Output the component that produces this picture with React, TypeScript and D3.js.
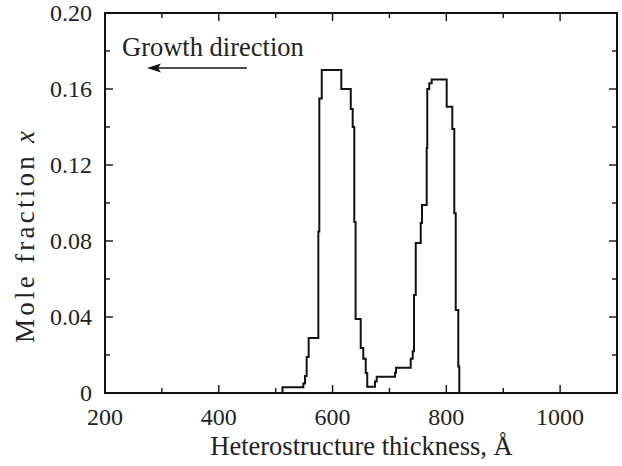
import React from "react";
import * as d3 from "d3";

// Step profile: each entry starts a new constant-composition layer
const thickness = [
  512, 548.6, 551.6, 554.5, 558, 575, 576.7, 581, 615.4, 632, 635.4, 638.2,
  640.5, 649.5, 654, 658.3, 661, 674.6, 677.6, 709.8, 711.5, 737.4, 740.9,
  743.2, 746.2, 755, 757.2, 765.5, 766.5, 770, 774.3, 800.6, 810.5, 814,
  816.5, 821, 822.8,
];
const moleFraction = [
  0.003, 0.005, 0.009, 0.019, 0.029, 0.085, 0.155, 0.17, 0.16, 0.1495, 0.14,
  0.09, 0.039, 0.0237, 0.018, 0.0105, 0.0033, 0.006, 0.0086, 0.0107, 0.0133,
  0.018, 0.022, 0.0516, 0.079, 0.0895, 0.099, 0.129, 0.16, 0.163, 0.165,
  0.1507, 0.139, 0.0946, 0.0437, 0.0139, 0,
];

const xMajorTicks = [200, 400, 600, 800, 1000];
const xMinorTicks = [300, 500, 700, 900, 1100];
const yMajorTicks = [0, 0.04, 0.08, 0.12, 0.16, 0.2];
const yMinorTicks = [0.02, 0.06, 0.1, 0.14, 0.18];

const W = 622;
const H = 466;
const M = { left: 105, right: 617, top: 13, bottom: 393 };
const FONT = '"Liberation Serif", "Times New Roman", "DejaVu Serif", serif';
const txt = { fontFamily: FONT };

export default function App() {
  const x = d3.scaleLinear().domain([200, 1100]).range([M.left, M.right]);
  const y = d3.scaleLinear().domain([0, 0.2]).range([M.bottom, M.top]);

  const pts: [number, number][] = [[thickness[0], 0]];
  thickness.forEach((t, i) => pts.push([t, moleFraction[i]]));
  const line = d3
    .line<[number, number]>()
    .x((d) => x(d[0]))
    .y((d) => y(d[1]))
    .curve(d3.curveStepAfter);

  const majLen = 8;
  const minLen = 5;

  return (
    <svg
      width={W}
      height={H}
      style={{ position: "absolute", left: 0, top: 0, background: "#fff" }}
    >
      {/* x ticks, bottom and top */}
      {xMajorTicks.concat(xMinorTicks).map((t) => {
        const len = xMajorTicks.includes(t) ? majLen : minLen;
        return (
          <g key={"xt" + t} stroke="#111" strokeWidth={1.4}>
            <line x1={x(t)} x2={x(t)} y1={M.bottom} y2={M.bottom - len} />
            <line x1={x(t)} x2={x(t)} y1={M.top} y2={M.top + len} />
          </g>
        );
      })}
      {/* y ticks, left and right */}
      {yMajorTicks.concat(yMinorTicks).map((t) => {
        const len = yMajorTicks.includes(t) ? majLen : minLen;
        return (
          <g key={"yt" + t} stroke="#111" strokeWidth={1.4}>
            <line x1={M.left} x2={M.left + len} y1={y(t)} y2={y(t)} />
            <line x1={M.right} x2={M.right - len} y1={y(t)} y2={y(t)} />
          </g>
        );
      })}

      {/* profile */}
      <path d={line(pts) || ""} fill="none" stroke="#111" strokeWidth={2} />

      {/* frame */}
      <rect
        x={M.left}
        y={M.top}
        width={M.right - M.left}
        height={M.bottom - M.top}
        fill="none"
        stroke="#111"
        strokeWidth={2}
      />

      {/* tick labels */}
      {xMajorTicks.map((t) => (
        <text
          key={"xl" + t}
          x={x(t)}
          y={425}
          fontSize={24}
          textAnchor="middle"
          fill="#222"
          style={txt}
        >
          {t}
        </text>
      ))}
      {yMajorTicks.map((t) => (
        <text
          key={"yl" + t}
          x={92}
          y={y(t) + 8}
          fontSize={24}
          textAnchor="end"
          fill="#222"
          style={txt}
        >
          {t === 0 ? "0" : t.toFixed(2)}
        </text>
      ))}

      {/* axis titles */}
      <text
        x={361.5}
        y={455}
        fontSize={26.5}
        textAnchor="middle"
        fill="#222"
        style={txt}
      >
        Heterostructure thickness, Å
      </text>
      <text
        transform="translate(34,237) rotate(-90)"
        fontSize={27}
        textAnchor="middle"
        textLength={212}
        lengthAdjust="spacing"
        fill="#222"
        style={txt}
      >
        Mole fraction <tspan fontStyle="italic">x</tspan>
      </text>

      {/* annotation */}
      <text x={122} y={56} fontSize={26.5} fill="#222" style={txt}>
        Growth direction
      </text>
      <line x1={247} y1={68} x2={158} y2={68} stroke="#111" strokeWidth={1.4} />
      <path d="M147,68 L161,63.5 L158,68 L161,72.5 Z" fill="#111" />
    </svg>
  );
}
